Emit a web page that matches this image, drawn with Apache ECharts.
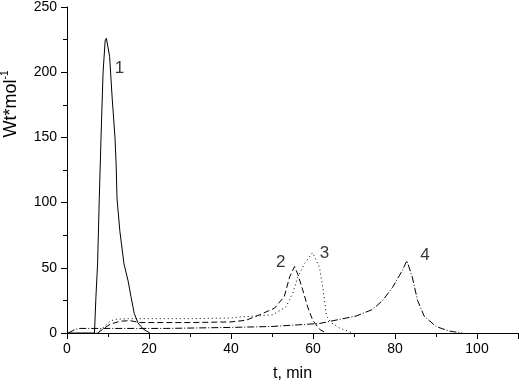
<!DOCTYPE html>
<html>
<head>
<meta charset="utf-8">
<script src="https://cdn.jsdelivr.net/npm/echarts@6/dist/echarts.min.js"></script>
<style>html,body{margin:0;padding:0;background:#fff;}#c{width:519px;height:387px;}</style>
</head>
<body>
<div id="c"></div>
<script>
// ---- data (x = t, min ; y = Wt*mol^-1) ----
const curve1 = [[0,0],[2,0],[6.7,0],[7.06,28],[7.46,53],[7.87,103],[8.3,150],[8.8,200],[9.3,224],[9.6,226],[10.0,226],[10.4,212],[11.0,181],[11.7,150],[12.0,128],[12.2,103],[12.9,78],[13.9,53],[14.9,40],[15.6,28],[16.4,15],[17.3,7.8],[18.6,3],[20.2,0]];
const curve2 = [[7.5,0],[9,3.5],[10.5,6.7],[12.9,9],[15.3,9.5],[17.8,8],[20,8],[30,8],[40,8.5],[43.7,9.8],[47,14],[50.6,19],[53,28],[54.3,43],[55.5,51],[56.3,45],[57.5,33],[58.7,20],[59.9,10],[61.6,2.8],[63.2,0]];
const curve3 = [[7.2,0],[9,4.5],[10.5,9],[11.7,10.5],[15,11],[30,11],[40,11.5],[42,12.3],[46,13],[50.2,14],[53.4,20],[55,30],[56.3,43],[57.9,53],[59.9,61.7],[61.6,50],[62.4,35],[63.3,13],[64.4,8],[66.4,4],[69.6,0]];
const curve4 = [[0.3,0],[2,2.8],[3.2,3.5],[10,3.5],[24,3.5],[40.4,4.3],[50,5],[61.6,7.3],[70.5,13],[74.5,18],[77,25],[79.4,35],[81.8,48],[82.9,55.5],[84.2,43],[85.5,25],[87.1,13],[90,5],[93.2,1.5],[96.4,0]];
const curveNames = ['1','2','3','4'];
const labelX = [12.8, 52.1, 62.8, 87.3];
const labelY = [203, 54.2, 61, 59.9];
const xTicks = {min:0, max:110, step:20};
const yTicks = {min:0, max:250, step:50};
const xTitle = 't, min';
const yTitleMain = 'Wt*mol';
const yTitleSup = '-1';

const font = 'Liberation Sans, Arial, sans-serif';
const chart = echarts.init(document.getElementById('c'));
const baseLine = {type:'line', showSymbol:false, symbol:'none', animation:false, z:3};
const labelData = labelX.map((x,i)=>({value:[x,labelY[i]], name:curveNames[i]}));
chart.setOption({
  backgroundColor:'#fff',
  animation:false,
  grid:{left:67, right:1, top:5, bottom:50},
  xAxis:{type:'value', min:xTicks.min, max:xTicks.max, interval:xTicks.step,
    name:xTitle, nameLocation:'middle', nameGap:33,
    nameTextStyle:{fontFamily:font, fontSize:16, color:'#000'},
    axisLine:{lineStyle:{color:'#000', width:1}},
    axisTick:{show:true, length:6, lineStyle:{color:'#000'}},
    minorTick:{show:true, splitNumber:2, length:4, lineStyle:{color:'#000'}},
    axisLabel:{fontFamily:font, fontSize:14, color:'#000', margin:9, showMaxLabel:false},
    splitLine:{show:false}},
  yAxis:{type:'value', min:yTicks.min, max:yTicks.max, interval:yTicks.step,
    axisLine:{show:true, lineStyle:{color:'#000', width:1}},
    axisTick:{show:true, length:6, lineStyle:{color:'#000'}},
    minorTick:{show:true, splitNumber:2, length:4, lineStyle:{color:'#000'}},
    axisLabel:{fontFamily:font, fontSize:14, color:'#000', margin:10},
    splitLine:{show:false}},
  graphic:[{type:'text', x:10, y:104, rotation:Math.PI/2,
    style:{text:'{a|'+yTitleMain+'}{b|'+yTitleSup+'}', align:'center', verticalAlign:'middle',
      rich:{a:{fontFamily:font, fontSize:18, fill:'#000', lineHeight:20, verticalAlign:'bottom'},
            b:{fontFamily:font, fontSize:10, fill:'#000', lineHeight:20, verticalAlign:'top', padding:[0,0,8,0]}}}}],
  series:[
    Object.assign({}, baseLine, {name:'1', data:curve1, lineStyle:{color:'#000', width:1, type:'solid'}}),
    Object.assign({}, baseLine, {name:'2', data:curve2, lineStyle:{color:'#000', width:1, type:[6,3]}}),
    Object.assign({}, baseLine, {name:'3', data:curve3, lineStyle:{color:'#000', width:1, type:[1,3]}}),
    Object.assign({}, baseLine, {name:'4', data:curve4, lineStyle:{color:'#000', width:1, type:[7,2,1,2]}}),
    {type:'scatter', data:labelData, symbolSize:0, silent:true, animation:false,
      label:{show:true, position:'inside', formatter:p=>p.name, fontFamily:font, fontSize:17, color:'#000'}}
  ]
});
</script>
</body>
</html>
